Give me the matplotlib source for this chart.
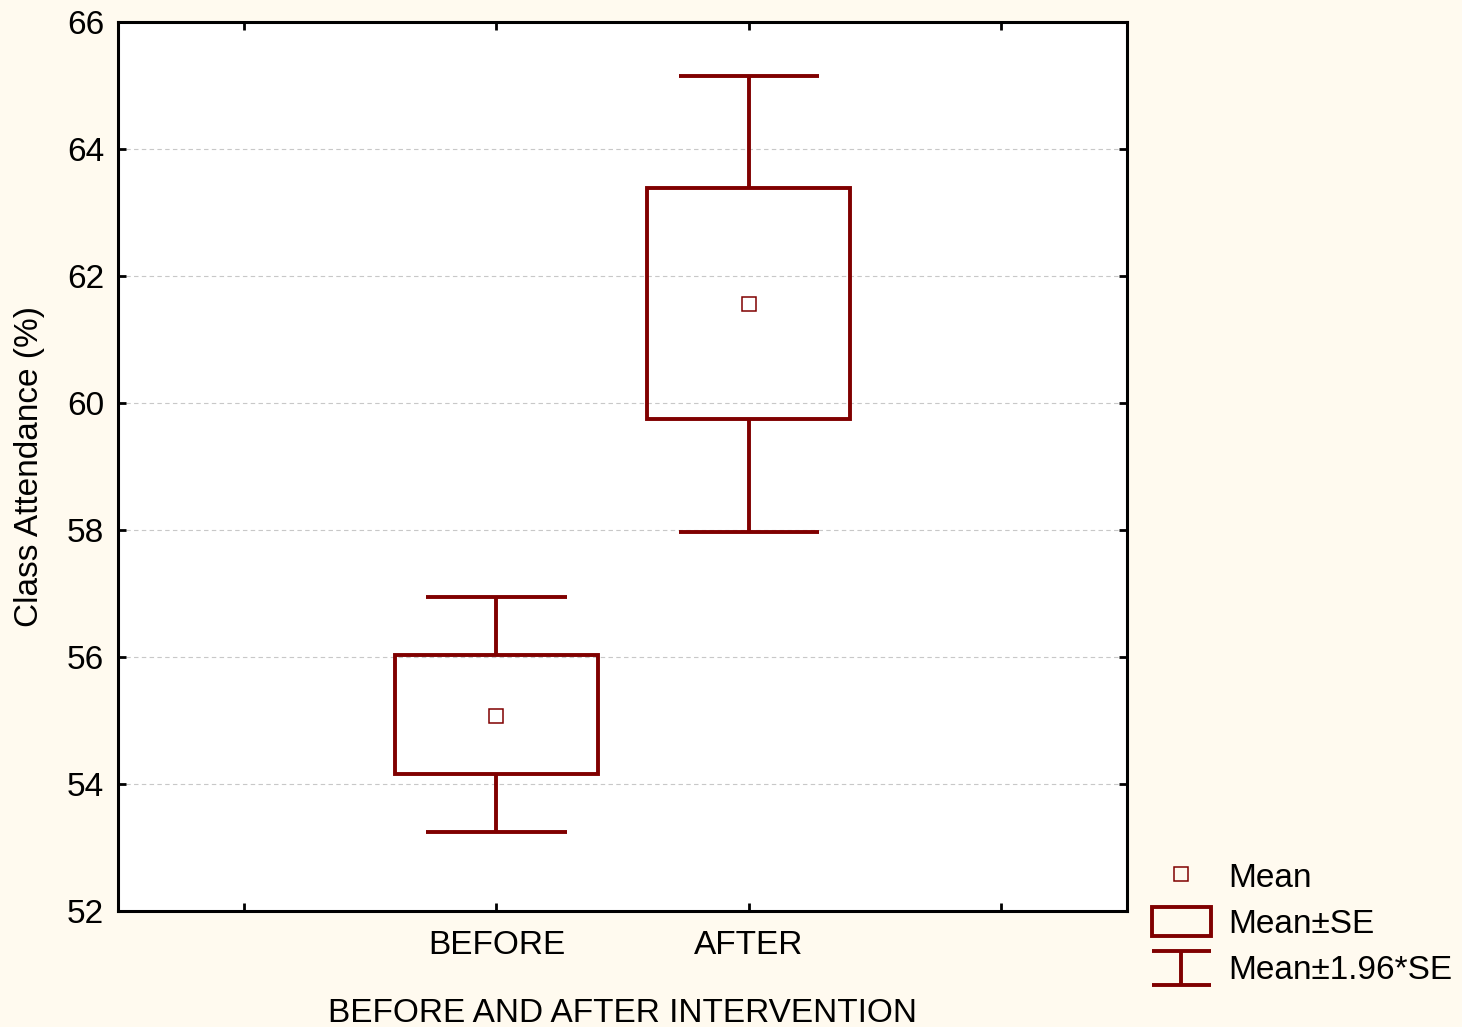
import matplotlib.pyplot as plt
from matplotlib.patches import Rectangle
from matplotlib.lines import Line2D
from matplotlib.legend_handler import HandlerBase

plt.rcParams['font.family'] = ['Liberation Sans', 'DejaVu Sans']

# values
groups = ['BEFORE', 'AFTER']
means = [55.07, 61.56]
se_low = [54.16, 59.75]
se_high = [56.03, 63.39]
ci_low = [53.24, 57.97]
ci_high = [56.94, 65.15]
positions = [2, 3]
tick_pos = [1, 2, 3, 4]
tick_labels = ['', 'BEFORE', 'AFTER', '']

red = '#800000'
bg = '#fffaef'
fs = 24


class WhiskerHandler(HandlerBase):
    def create_artists(self, legend, orig_handle, xdescent, ydescent,
                       width, height, fontsize, trans):
        x0, x1 = -xdescent, -xdescent + width
        y0, y1 = -ydescent - 2, -ydescent + height + 1
        xm = (x0 + x1) / 2
        arts = [Line2D([x0, x1], [y1, y1], color=red, lw=2.8),
                Line2D([x0, x1], [y0, y0], color=red, lw=2.8),
                Line2D([xm, xm], [y0, y1], color=red, lw=2.8)]
        for a in arts:
            a.set_transform(trans)
            a.set_solid_capstyle('butt')
        return arts


class Whisker:
    pass


fig = plt.figure(figsize=(14.62, 10.27), dpi=100, facecolor=bg)
ax = fig.add_axes([0.0807, 0.1130, 0.6902, 0.8656])

box_w = 0.806
cap_w = 0.556
for p, lo, hi, clo, chi in zip(positions, se_low, se_high, ci_low, ci_high):
    ax.vlines(p, hi, chi, color=red, lw=2.8, zorder=3)
    ax.vlines(p, clo, lo, color=red, lw=2.8, zorder=3)
    ax.hlines([clo, chi], p - cap_w / 2, p + cap_w / 2, color=red, lw=2.8, zorder=3)
    ax.add_patch(Rectangle((p - box_w / 2, lo), box_w, hi - lo, fill=False,
                           ec=red, lw=2.8, zorder=3))
ax.plot(positions, means, ls='', marker='s', ms=10.5, mfc='none', mec=red,
        mew=1.1, zorder=4)

ax.set_xlim(0.5, 4.5)
ax.set_ylim(52, 66)
ax.set_yticks(range(52, 67, 2))
ax.set_xticks(tick_pos)
ax.set_xticklabels(tick_labels)
ax.yaxis.grid(True, ls=(0, (4, 3)), color='#c8c8c8', lw=0.8)
ax.set_axisbelow(True)
ax.tick_params(direction='in', length=6, width=2, labelsize=fs,
               top=True, right=True)
ax.tick_params(axis='x', pad=14)
ax.tick_params(axis='y', pad=10)
for s in ax.spines.values():
    s.set_linewidth(2.2)

ax.set_ylabel('Class Attendance (%)', fontsize=fs, labelpad=16)
ax.set_xlabel('BEFORE AND AFTER INTERVENTION', fontsize=fs, labelpad=26)

handles = [Line2D([], [], ls='', marker='s', ms=10.5, mfc='none', mec=red, mew=1.1),
           Rectangle((0, 0), 1, 1, fill=False, ec=red, lw=2.8),
           Whisker()]
fig.legend(handles, ['Mean', 'Mean±SE', 'Mean±1.96*SE'],
           handler_map={Whisker: WhiskerHandler()},
           loc='lower left', bbox_to_anchor=(0.7785, 0.027), frameon=False,
           fontsize=fs, handlelength=1.77, handleheight=1.0,
           labelspacing=0.38, handletextpad=0.54, borderaxespad=0)

fig.savefig('out.png', dpi=100, facecolor=bg)
